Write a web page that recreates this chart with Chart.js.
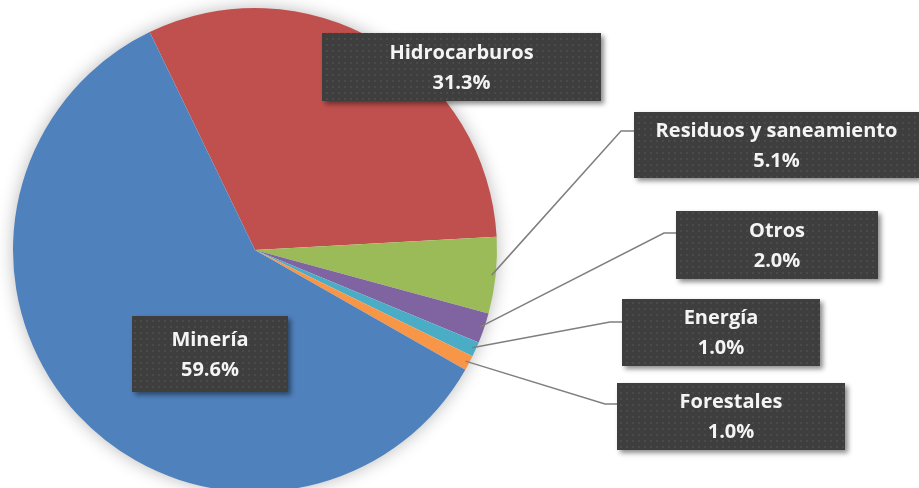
<!DOCTYPE html>
<html>
<head>
<meta charset="utf-8">
<script src="https://cdn.jsdelivr.net/npm/chart.js@4"></script>
<style>
    html, body { margin: 0; padding: 0; background: #fff; overflow: hidden; }
    #wrap { width: 919px; height: 492px; position: relative; }
</style>
</head>
<body>
<div id="wrap"><canvas id="pieChart" width="919" height="492"></canvas></div>
<script>
// Chart data
const sectors = ['Hidrocarburos', 'Residuos y saneamiento', 'Otros', 'Energía', 'Forestales', 'Minería'];
const shares = [31.3, 5.1, 2.0, 1.0, 1.0, 59.6];
const sliceColors = ['#C0504D', '#9BBB59', '#8064A2', '#4BACC6', '#F79646', '#4F81BD'];

// Label boxes: [left, top, width, height], plus the elbow point of the leader line (null = no line)
const labelBoxes = [
    { box: [322, 33, 279, 68], elbow: null },
    { box: [634, 112, 285, 66], elbow: [621, 131] },
    { box: [676, 211, 202, 68], elbow: [664, 233] },
    { box: [622, 299, 198, 67], elbow: [610, 322] },
    { box: [617, 383, 228, 67], elbow: [605, 404] },
    { box: [132, 316, 156, 76], elbow: null },
];

/**
 * Dotted dark fill used by the label boxes
 */
function makeDotPattern(ctx) {
    const tile = document.createElement('canvas');
    tile.width = 6;
    tile.height = 6;
    const t = tile.getContext('2d');
    t.fillStyle = '#3e3e3e';
    t.fillRect(0, 0, 6, 6);
    t.fillStyle = '#4a4a4a';
    t.fillRect(2, 2, 2, 2);
    return ctx.createPattern(tile, 'repeat');
}

// soft shadow behind the whole pie
const pieShadow = {
    id: 'pieShadow',
    beforeDatasetsDraw(chart) {
        const arc = chart.getDatasetMeta(0).data[0];
        const ctx = chart.ctx;
        ctx.save();
        ctx.shadowColor = 'rgba(0,0,0,0.3)';
        ctx.shadowBlur = 18;
        ctx.fillStyle = '#fff';
        ctx.beginPath();
        ctx.arc(arc.x, arc.y, arc.outerRadius - 1, 0, Math.PI * 2);
        ctx.fill();
        ctx.restore();
    }
};

// leader lines and label boxes
const calloutLabels = {
    id: 'calloutLabels',
    afterDatasetsDraw(chart) {
        const ctx = chart.ctx;
        const meta = chart.getDatasetMeta(0);
        const pattern = makeDotPattern(ctx);

        meta.data.forEach((arc, i) => {
            const cfg = labelBoxes[i];
            const [bx, by, bw, bh] = cfg.box;

            if (cfg.elbow) {
                const mid = (arc.startAngle + arc.endAngle) / 2;
                const r = arc.outerRadius - 4;
                ctx.save();
                ctx.strokeStyle = '#7f7f7f';
                ctx.lineWidth = 1.5;
                ctx.beginPath();
                ctx.moveTo(arc.x + Math.cos(mid) * r, arc.y + Math.sin(mid) * r);
                ctx.lineTo(cfg.elbow[0], cfg.elbow[1]);
                ctx.lineTo(bx, cfg.elbow[1]);
                ctx.stroke();
                ctx.restore();
            }

            ctx.save();
            ctx.shadowColor = 'rgba(0,0,0,0.45)';
            ctx.shadowBlur = 5;
            ctx.shadowOffsetX = 3;
            ctx.shadowOffsetY = 3;
            ctx.fillStyle = pattern;
            ctx.fillRect(bx, by, bw, bh);
            ctx.restore();

            ctx.save();
            ctx.fillStyle = '#f4f4f4';
            ctx.font = 'bold 20px "Open Sans"';
            ctx.textAlign = 'center';
            ctx.textBaseline = 'middle';
            const cx = bx + bw / 2;
            const cy = by + bh / 2;
            ctx.fillText(chart.data.labels[i], cx, cy - 14);
            ctx.fillText(shares[i].toFixed(1) + '%', cx, cy + 16);
            ctx.restore();
        });
    }
};

new Chart(document.getElementById('pieChart'), {
    type: 'pie',
    data: {
        labels: sectors,
        datasets: [{
            data: shares,
            backgroundColor: sliceColors,
            borderWidth: 0,
        }],
    },
    options: {
        responsive: false,
        animation: false,
        rotation: -25.8,
        layout: {
            padding: { left: 13, right: 422, top: 8, bottom: 0 },
        },
        plugins: {
            legend: { display: false },
            tooltip: { enabled: false },
        },
    },
    plugins: [pieShadow, calloutLabels],
});
</script>
</body>
</html>
